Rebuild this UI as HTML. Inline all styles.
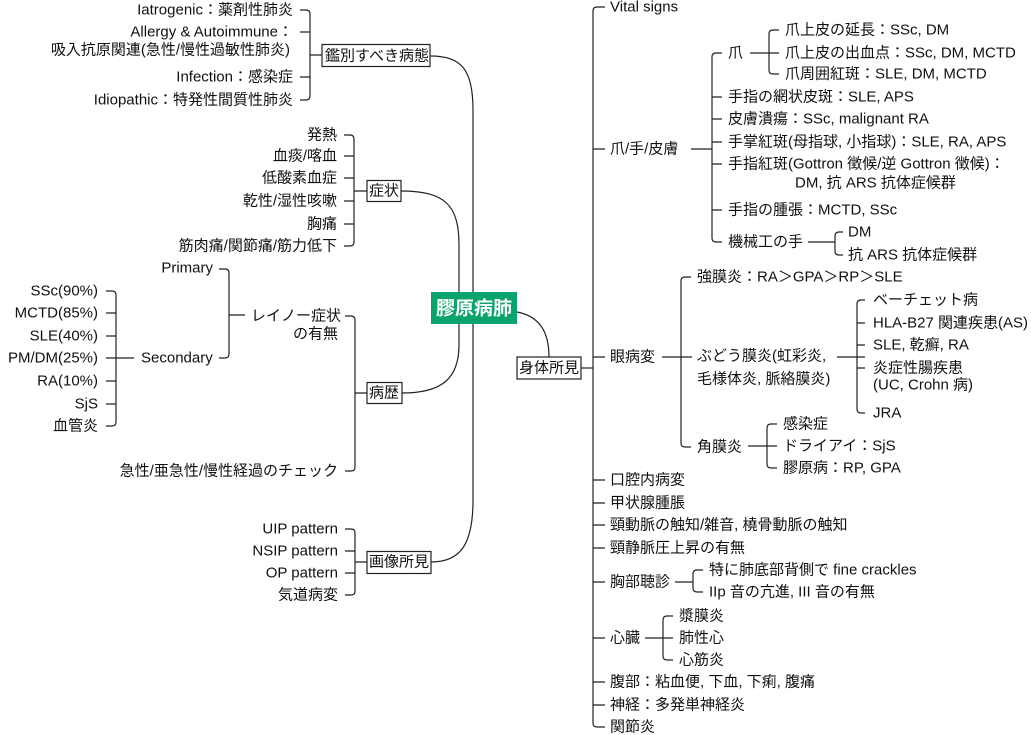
<!DOCTYPE html>
<html><head><meta charset="utf-8"><style>
html,body{margin:0;padding:0;background:#fff;}
svg{display:block;}
text{font-family:"Liberation Sans","Noto Sans CJK JP",sans-serif;font-size:15px;fill:#111;dominant-baseline:central;}
.e{text-anchor:end;}
path,line{stroke:#222;stroke-width:1.2;fill:none;}
</style></head><body>
<svg width="1031" height="735" viewBox="0 0 1031 735" xmlns="http://www.w3.org/2000/svg">
<text class="e" x="293" y="10">Iatrogenic：薬剤性肺炎</text>
<text class="e" x="293" y="32">Allergy &amp; Autoimmune：</text>
<text class="e" x="290" y="50">吸入抗原関連(急性/慢性過敏性肺炎)</text>
<text class="e" x="293" y="77">Infection：感染症</text>
<text class="e" x="293" y="100">Idiopathic：特発性間質性肺炎</text>
<path d="M300 10 H306 Q310 10 310 14 V96 Q310 100 306 100 H300 M300 32 H310 M300 77 H310 M310 55 H322"/>
<rect x="322" y="44.5" width="108" height="22" fill="#fff" stroke="#222" stroke-width="1.2"/>
<text x="325" y="56">鑑別すべき病態</text>

<text class="e" x="337" y="135">発熱</text>
<text class="e" x="337" y="156">血痰/喀血</text>
<text class="e" x="337" y="178">低酸素血症</text>
<text class="e" x="337" y="201">乾性/湿性咳嗽</text>
<text class="e" x="337" y="224">胸痛</text>
<text class="e" x="337" y="246">筋肉痛/関節痛/筋力低下</text>
<path d="M344 135 H350 Q354 135 354 139 V242 Q354 246 350 246 H344 M344 156 H354 M344 178 H354 M344 201 H354 M344 224 H354 M354 191 H367"/>
<rect x="367" y="180.5" width="34" height="21" fill="#fff" stroke="#222" stroke-width="1.2"/>
<text x="369" y="191">症状</text>

<text class="e" x="98" y="291">SSc(90%)</text>
<text class="e" x="98" y="313">MCTD(85%)</text>
<text class="e" x="98" y="336">SLE(40%)</text>
<text class="e" x="98" y="358">PM/DM(25%)</text>
<text class="e" x="98" y="381">RA(10%)</text>
<text class="e" x="98" y="404">SjS</text>
<text class="e" x="98" y="426">血管炎</text>
<path d="M106 291 H112 Q116 291 116 295 V422 Q116 426 112 426 H106 M106 313 H116 M106 336 H116 M106 381 H116 M106 404 H116 M106 358 H134"/>
<text x="141" y="358">Secondary</text>
<text class="e" x="213" y="268">Primary</text>
<path d="M219 269 H225 Q229 269 229 273 V354 Q229 358 225 358 H219 M229 315 H245"/>
<text x="251" y="316">レイノー症状</text>
<text class="e" x="338" y="334">の有無</text>
<text class="e" x="338" y="471">急性/亜急性/慢性経過のチェック</text>
<path d="M345 316 H351 Q355 316 355 320 V467 Q355 471 351 471 H345 M355 393 H367"/>
<rect x="367" y="382.5" width="35" height="21" fill="#fff" stroke="#222" stroke-width="1.2"/>
<text x="369" y="393">病歴</text>

<text class="e" x="338" y="529">UIP pattern</text>
<text class="e" x="338" y="551">NSIP pattern</text>
<text class="e" x="338" y="573">OP pattern</text>
<text class="e" x="338" y="595">気道病変</text>
<path d="M345 529 H351 Q355 529 355 533 V591 Q355 595 351 595 H345 M345 551 H355 M345 573 H355 M355 562 H367"/>
<rect x="367" y="551.5" width="64" height="22" fill="#fff" stroke="#222" stroke-width="1.2"/>
<text x="369" y="562">画像所見</text>

<path d="M430 56 C462 56 473 70 473 110 V500 C473 545 460 562 431 562"/>
<path d="M401 191 C445 191 459 205 459 245 V345 C459 380 440 393 402 393"/>
<rect x="431" y="292" width="86" height="32" fill="#0aa36b"/>
<text x="474" y="309" style="text-anchor:middle;fill:#fff;font-weight:bold;font-size:19px">膠原病肺</text>
<path d="M517 312 C538 316 549 330 549 357"/>
<rect x="517" y="357" width="64" height="22" fill="#fff" stroke="#222" stroke-width="1.2"/>
<text x="519" y="368">身体所見</text>
<path d="M581 368 H593"/>

<path d="M605 7 H597 Q593 7 593 11 V723 Q593 727 597 727 H605"/>
<path d="M593 149 H605 M593 357 H605 M593 480 H605 M593 503 H605 M593 525 H605 M593 548 H605 M593 582 H605 M593 638 H605 M593 682 H605 M593 705 H605"/>
<text x="610" y="7">Vital signs</text>
<text x="610" y="149">爪/手/皮膚</text>
<path d="M691 149 H712 M722 53 H716 Q712 53 712 57 V238 Q712 242 716 242 H722 M712 97 H722 M712 119 H722 M712 142 H722 M712 164 H722 M712 210 H722"/>
<text x="728" y="53">爪</text>
<path d="M750 53 H779 M779 30 H773 Q769 30 769 34 V70 Q769 74 773 74 H779"/>
<text x="785" y="30">爪上皮の延長：SSc, DM</text>
<text x="785" y="53">爪上皮の出血点：SSc, DM, MCTD</text>
<text x="785" y="74">爪周囲紅斑：SLE, DM, MCTD</text>
<text x="728" y="97">手指の網状皮斑：SLE, APS</text>
<text x="728" y="119">皮膚潰瘍：SSc, malignant RA</text>
<text x="728" y="142">手掌紅斑(母指球, 小指球)：SLE, RA, APS</text>
<text x="728" y="164">手指紅斑(Gottron 徴候/逆 Gottron 徴候)：</text>
<text x="795" y="183">DM, 抗 ARS 抗体症候群</text>
<text x="728" y="210">手指の腫張：MCTD, SSc</text>
<text x="728" y="242">機械工の手</text>
<path d="M808 242 H835 M843 232 H839 Q835 232 835 236 V251 Q835 255 839 255 H843"/>
<text x="848" y="232">DM</text>
<text x="848" y="255">抗 ARS 抗体症候群</text>

<text x="610" y="357">眼病変</text>
<path d="M662 357 H692 M691 277 H685 Q681 277 681 281 V443 Q681 447 685 447 H691"/>
<text x="697" y="277">強膜炎：RA＞GPA＞RP＞SLE</text>
<text x="697" y="356">ぶどう膜炎(虹彩炎,</text>
<text x="697" y="379">毛様体炎, 脈絡膜炎)</text>
<path d="M837 357 H865 M865 300 H861 Q857 300 857 304 V409 Q857 413 861 413 H865 M857 323 H865 M857 345 H865 M857 368 H865"/>
<text x="873" y="300">ベーチェット病</text>
<text x="873" y="323">HLA-B27 関連疾患(AS)</text>
<text x="873" y="345">SLE, 乾癬, RA</text>
<text x="873" y="368">炎症性腸疾患</text>
<text x="873" y="385">(UC, Crohn 病)</text>
<text x="873" y="413">JRA</text>
<text x="697" y="447">角膜炎</text>
<path d="M748 446 H777 M777 424 H771 Q767 424 767 428 V464 Q767 468 771 468 H777"/>
<text x="783" y="424">感染症</text>
<text x="783" y="446">ドライアイ：SjS</text>
<text x="783" y="468">膠原病：RP, GPA</text>

<text x="610" y="480">口腔内病変</text>
<text x="610" y="503">甲状腺腫脹</text>
<text x="610" y="525">頸動脈の触知/雑音, 橈骨動脈の触知</text>
<text x="610" y="548">頸静脈圧上昇の有無</text>
<text x="610" y="582">胸部聴診</text>
<path d="M675 582 H693 M703 570 H697 Q693 570 693 574 V588 Q693 592 697 592 H703"/>
<text x="709" y="570">特に肺底部背側で fine crackles</text>
<text x="709" y="592">IIp 音の亢進, III 音の有無</text>
<text x="610" y="638">心臓</text>
<path d="M645 638 H673 M673 616 H667 Q663 616 663 620 V656 Q663 660 667 660 H673"/>
<text x="679" y="616">漿膜炎</text>
<text x="679" y="638">肺性心</text>
<text x="679" y="660">心筋炎</text>
<text x="610" y="682">腹部：粘血便, 下血, 下痢, 腹痛</text>
<text x="610" y="705">神経：多発単神経炎</text>
<text x="610" y="727">関節炎</text>
</svg>
</body></html>
